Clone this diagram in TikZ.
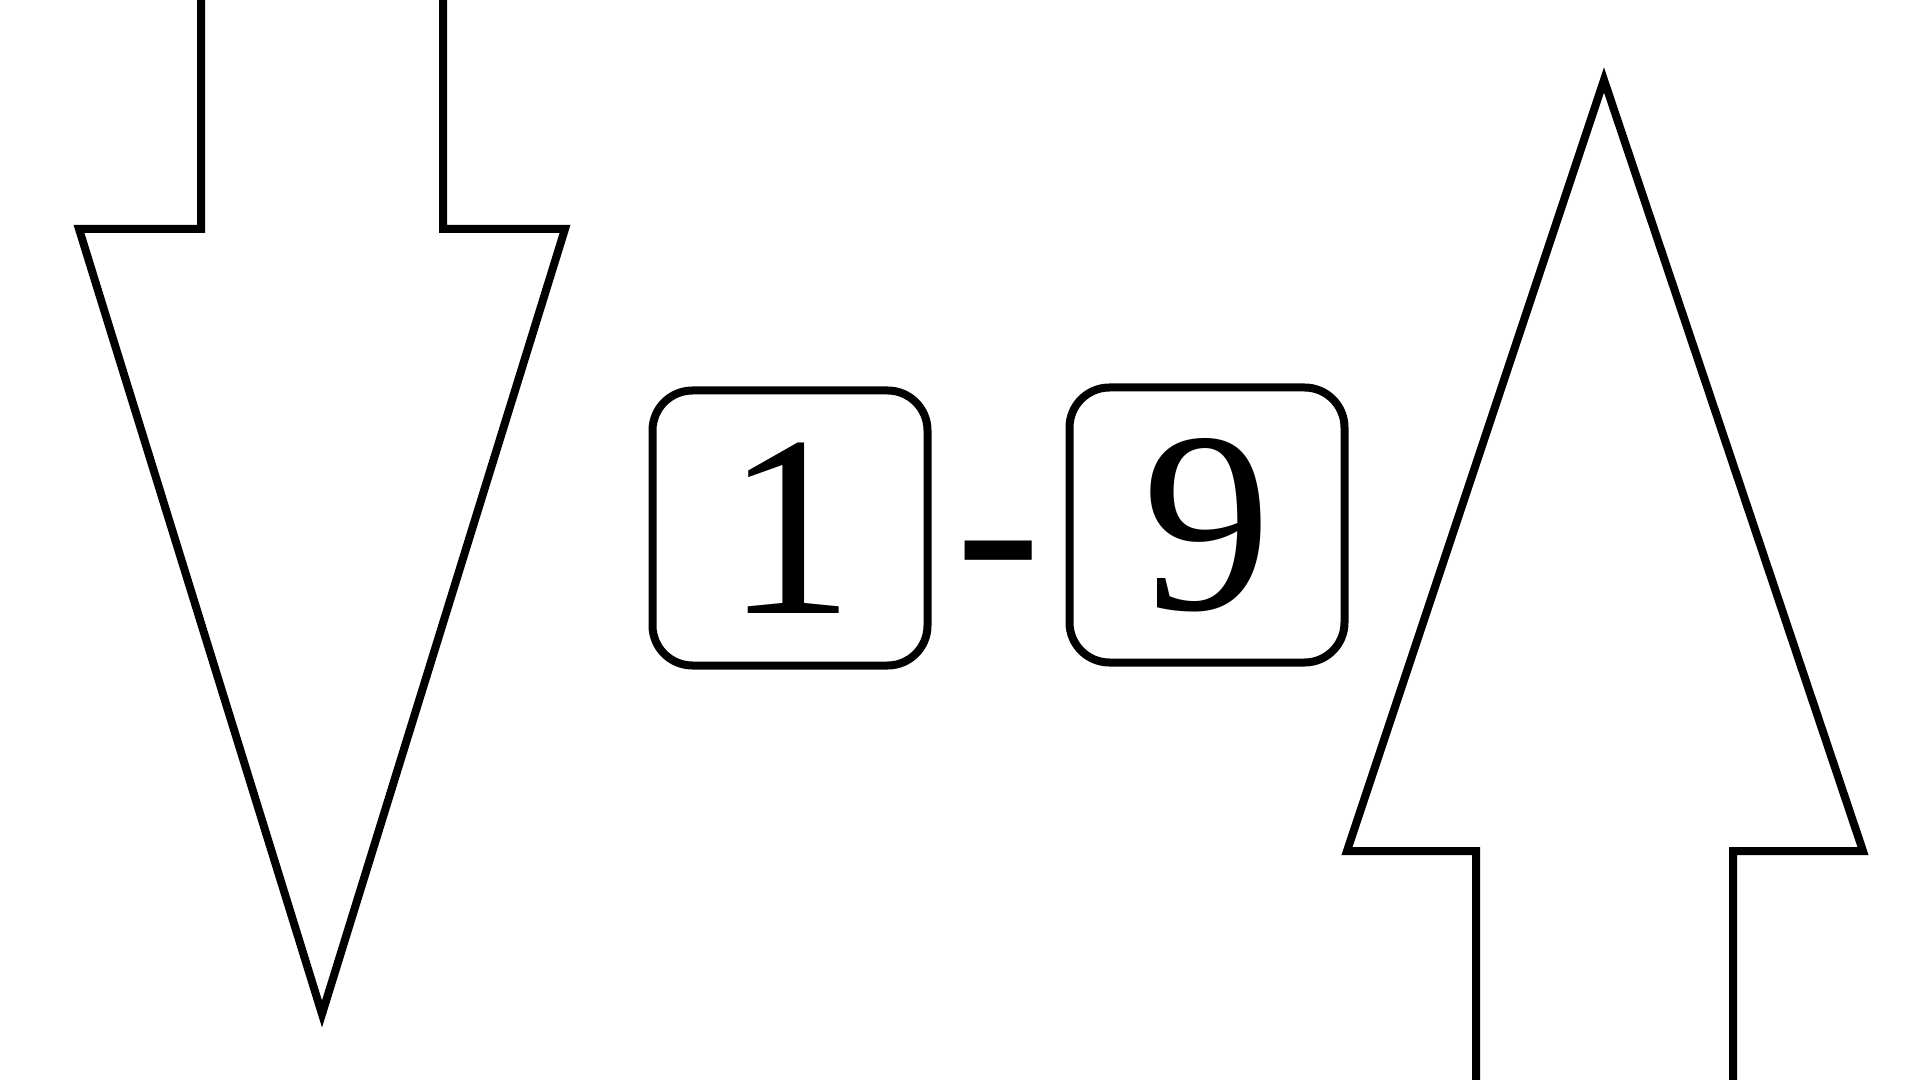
\documentclass[tikz,border=0pt]{standalone}
\usepackage{fontspec}
\setmainfont{Liberation Serif}
\usetikzlibrary{positioning, calc}

\begin{document}
\begin{tikzpicture}[
        x=0.2mm, y=-0.2mm,
        % Style for the two digit boxes
        digitBox/.style={
            rectangle, draw=black, line width=1.6mm, rounded corners=8mm,
            minimum width=55mm, minimum height=55mm, inner sep=0pt,
            font=\fontsize{147}{147}\selectfont
        },
        % Style for the separator between the boxes
        digitDash/.style={inner sep=0pt, font=\fontsize{147}{147}\selectfont},
        % Style for the big outline arrows
        bigArrow/.style={draw=black, line width=1.6mm, line join=miter}
    ]

    \path [use as bounding box, clip] (0,0) rectangle (1920,1080);

    % --- Nodes ---
    \node [digitBox] (one) at (790, 528) {1};
    \node [digitBox] (nine) at (1207, 525) {9};
    \node [digitDash, anchor=base] (dash)
        at ($(one.base)!0.5!(nine.base)$) {-};

    % --- Arrows ---

    % Down arrow (left), shaft runs off the top edge
    \draw [bigArrow] (201,-20) -- (201,229) -- (79,229) -- (322,1014)
        -- (565,229) -- (443,229) -- (443,-20);

    % Up arrow (right), shaft runs off the bottom edge
    \draw [bigArrow] (1476,1100) -- (1476,851) -- (1347,851) -- (1604,80)
        -- (1863,851) -- (1733,851) -- (1733,1100);

\end{tikzpicture}
\end{document}
